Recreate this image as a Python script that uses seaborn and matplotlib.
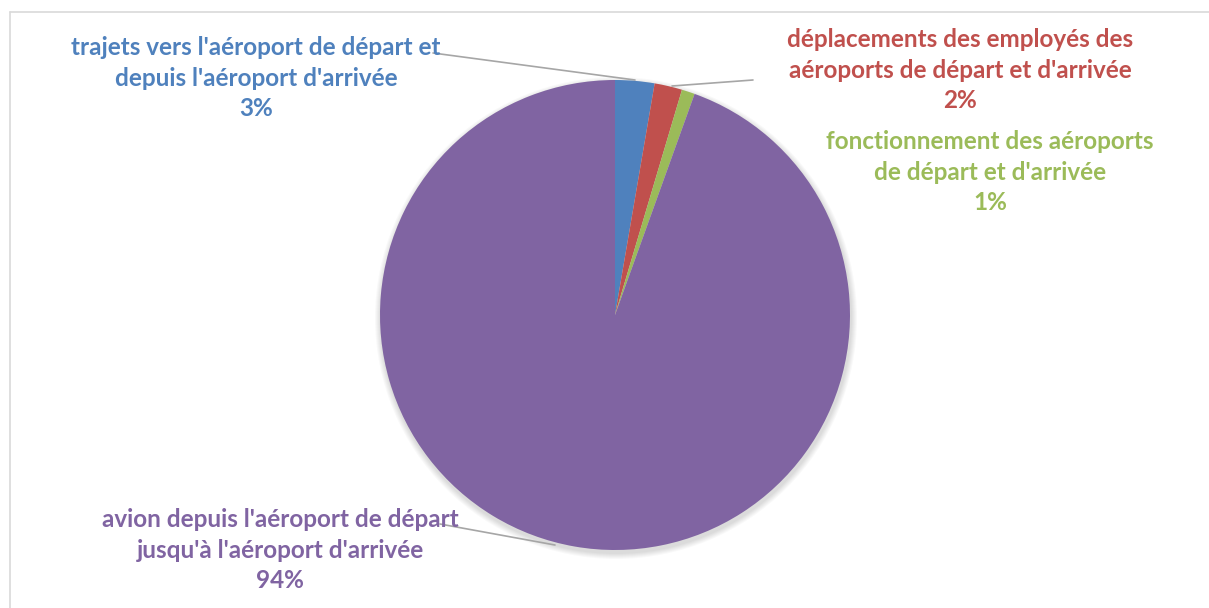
import matplotlib
matplotlib.use("Agg")
import matplotlib.pyplot as plt
import matplotlib.patches as mpatches
import seaborn as sns

# Slice data
labels = [
    "trajets vers l'aéroport de départ et\ndepuis l'aéroport d'arrivée",
    "déplacements des employés des\naéroports de départ et d'arrivée",
    "fonctionnement des aéroports\nde départ et d'arrivée",
    "avion depuis l'aéroport de départ\njusqu'à l'aéroport d'arrivée",
]
shares = [2.7, 1.9, 0.9, 94.5]
colors = ["#4F81BD", "#C0504D", "#9BBB59", "#8064A2"]

sns.set_theme(style="white")
plt.rcParams["font.family"] = ["Lato", "DejaVu Sans"]

W, H = 1209, 608
fig = plt.figure(figsize=(W / 100, H / 100), dpi=100)
ax = fig.add_axes([0, 0, 1, 1])

cx, cy, r = 615, H - 315, 235

# soft shadow under the pie
for k in range(6):
    ax.add_patch(mpatches.Circle((cx + 1, cy - 3), r + 6 - k, color="black",
                                 alpha=0.025, lw=0, zorder=0))

wedges, _ = ax.pie(
    shares,
    colors=sns.color_palette(colors),
    startangle=90,
    counterclock=False,
    center=(cx, cy),
    radius=r,
    wedgeprops=dict(linewidth=0, zorder=1),
)
ax.set_xlim(0, W)
ax.set_ylim(0, H)
ax.set_aspect("equal")
ax.axis("off")

# chart frame
ax.plot([10, 10], [0, H - 12], color="#d9d9d9", lw=1.2)
ax.plot([10, W], [H - 12, H - 12], color="#d9d9d9", lw=1.2)

# label layout: text centre and leader line (image pixel coords)
text_pos = [(256, 78), (960, 70), (990, 172), (280, 550)]
leaders = [((433, 53), (635, 80)), ((672, 86), (753, 80)), None, ((440, 524), (555, 545))]

total = sum(shares)
for lab, val, col, (tx, ty), ld in zip(labels, shares, colors, text_pos, leaders):
    pct = f"{round(val / total * 100):.0f}%"
    ax.text(tx, H - ty, f"{lab}\n{pct}", color=col, ha="center", va="center",
            fontsize=17.5, fontweight="bold", linespacing=1.38)
    if ld is not None:
        (x0, y0), (x1, y1) = ld
        ax.plot([x0, x1], [H - y0, H - y1], color="#a6a6a6", lw=1.2, zorder=0.5)

fig.savefig("out.png", dpi=100)
